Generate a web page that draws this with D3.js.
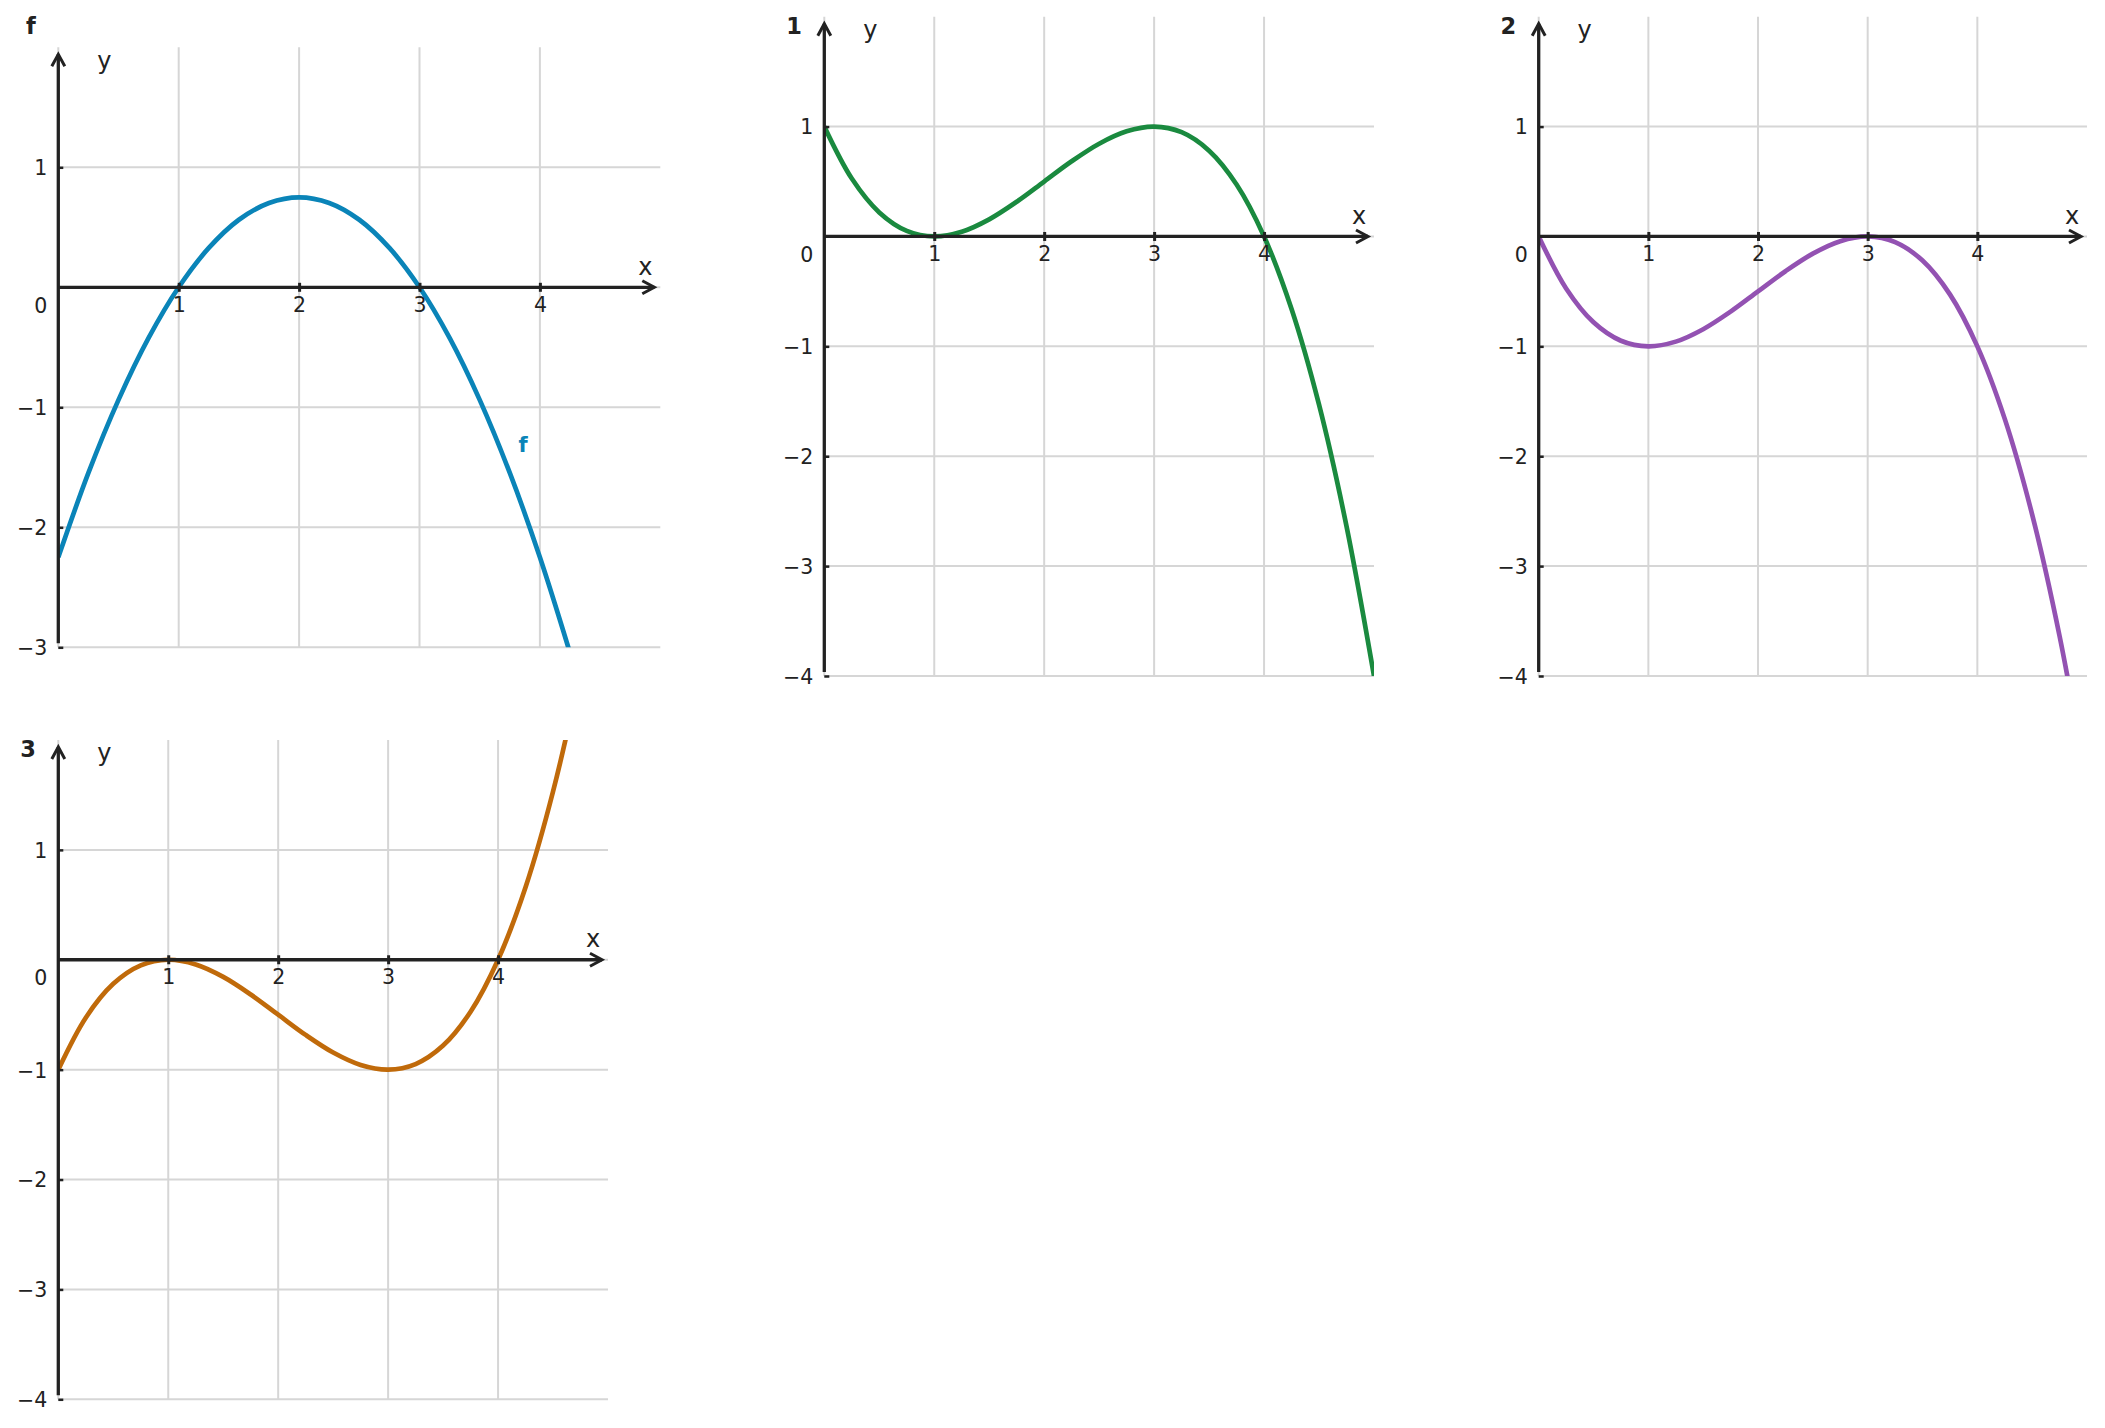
<!DOCTYPE html>
<html>
<head>
<meta charset="utf-8">
<script src="https://cdn.jsdelivr.net/npm/d3@7"></script>
<style>
  html, body { margin: 0; padding: 0; background: #fff; }
  svg { display: block; font-family: "DejaVu Sans", sans-serif; }
</style>
</head>
<body>
<svg id="chart" width="2105" height="1428"></svg>
<script>
// ---------- data ----------
const xSamples = [0, 0.25, 0.5, 0.75, 1, 1.25, 1.5, 1.75, 2, 2.25, 2.5, 2.75, 3, 3.25, 3.5, 3.75, 4, 4.25, 4.5, 4.75, 5];
const fValues  = [-2.25, -1.547, -0.938, -0.422, 0, 0.328, 0.563, 0.703, 0.75, 0.703, 0.563, 0.328, 0, -0.422, -0.938, -1.547, -2.25, -3.047];
const g1Values = [1, 0.527, 0.219, 0.051, 0, 0.043, 0.156, 0.316, 0.5, 0.684, 0.844, 0.957, 1, 0.949, 0.781, 0.473, 0, -0.660, -1.531, -2.637, -4];
const g2Values = [0, -0.473, -0.781, -0.949, -1, -0.957, -0.844, -0.684, -0.5, -0.316, -0.156, -0.043, 0, -0.051, -0.219, -0.527, -1, -1.660, -2.531, -3.637, -5];
const g3Values = [-1, -0.527, -0.219, -0.051, 0, -0.043, -0.156, -0.316, -0.5, -0.684, -0.844, -0.957, -1, -0.949, -0.781, -0.473, 0, 0.660, 1.531, 2.637, 4];
const panelTitles = ["f", "1", "2", "3"];
const xTicks = [1, 2, 3, 4];
const xGrid = [0, 1, 2, 3, 4];
const yTicksF = [-3, -2, -1, 1];
const yTicksG = [-4, -3, -2, -1, 1];
const xDomain = [0, 5];
const yMax = 2;

// ---------- layout / style ----------
const colors = ["#0a84b8", "#1a8a3f", "#9352b2", "#c06a0a"];
const panels = [
  { title: panelTitles[0], values: fValues,  yTicks: yTicksF, yMin: -3, color: colors[0], x0: 58.3,   x1: 660.3, top: 47.3,  bottom: 647.3, label: "f" },
  { title: panelTitles[1], values: g1Values, yTicks: yTicksG, yMin: -4, color: colors[1], x0: 824.3,  x1: 1374,  top: 16.7,  bottom: 676 },
  { title: panelTitles[2], values: g2Values, yTicks: yTicksG, yMin: -4, color: colors[2], x0: 1538.7, x1: 2087,  top: 16.7,  bottom: 676 },
  { title: panelTitles[3], values: g3Values, yTicks: yTicksG, yMin: -4, color: colors[3], x0: 58.3,   x1: 608,   top: 740,   bottom: 1399.3 }
];
const titleBaselines = [34.3, 34.3, 34.3, 757];
const ink = "#222222";
const gridColor = "#d6d6d6";
const tickFont = 20.5;

const svg = d3.select("#chart");

panels.forEach((p, i) => {
  const x = d3.scaleLinear().domain(xDomain).range([p.x0, p.x1]);
  const y = d3.scaleLinear().domain([p.yMin, yMax]).range([p.bottom, p.top]);
  const g = svg.append("g");

  // clip
  const clipId = "clip" + i;
  g.append("clipPath").attr("id", clipId).append("rect")
    .attr("x", x(0)).attr("y", y(yMax))
    .attr("width", x(5) - x(0)).attr("height", y(p.yMin) - y(yMax));

  // grid
  g.selectAll(".vg").data(xGrid).enter().append("line")
    .attr("x1", d => x(d)).attr("x2", d => x(d))
    .attr("y1", y(p.yMin)).attr("y2", y(yMax))
    .attr("stroke", gridColor).attr("stroke-width", 2);
  const hGrid = d3.range(p.yMin, yMax);
  g.selectAll(".hg").data(hGrid).enter().append("line")
    .attr("x1", x(0)).attr("x2", x(5))
    .attr("y1", d => y(d)).attr("y2", d => y(d))
    .attr("stroke", gridColor).attr("stroke-width", 2);

  // curve
  const pts = p.values.map((v, k) => [xSamples[k], v]);
  const line = d3.line().x(d => x(d[0])).y(d => y(d[1])).curve(d3.curveCatmullRom.alpha(0.5));
  g.append("path").datum(pts)
    .attr("clip-path", `url(#${clipId})`)
    .attr("d", line)
    .attr("fill", "none").attr("stroke", p.color).attr("stroke-width", 4.7)
    .attr("stroke-linecap", "butt");

  // x axis (ticks + labels)
  const xa = g.append("g").attr("transform", `translate(0,${y(0)})`)
    .call(d3.axisBottom(x).tickValues(xTicks).tickSize(5).tickFormat(d3.format("d")));
  xa.select(".domain").remove();
  xa.selectAll(".tick line").attr("y1", -4.5).attr("y2", 4.5).attr("stroke", ink).attr("stroke-width", 3);
  xa.selectAll(".tick text").attr("y", 24.7).attr("dy", null)
    .attr("fill", ink).attr("font-size", tickFont).attr("font-family", "DejaVu Sans");

  // y axis (ticks + labels)
  const ya = g.append("g").attr("transform", `translate(${x(0)},0)`)
    .call(d3.axisLeft(y).tickValues(p.yTicks).tickSizeInner(-5).tickSizeOuter(0).tickPadding(11)
      .tickFormat(d => d3.format("d")(d).replace("-", "\u2212")));
  ya.select(".domain").remove();
  ya.selectAll(".tick line").attr("stroke", ink).attr("stroke-width", 2.5);
  ya.selectAll(".tick text").attr("dy", "0.36em")
    .attr("fill", ink).attr("font-size", tickFont).attr("font-family", "DejaVu Sans");

  // origin label
  g.append("text").attr("x", x(0) - 11).attr("y", y(0) + 25.5)
    .attr("text-anchor", "end").attr("fill", ink).attr("font-size", tickFont).text("0");

  // axis lines with arrows
  const xTip = x(5) - 6, yTip = y(yMax) + 7;
  g.append("line").attr("x1", x(0)).attr("x2", xTip).attr("y1", y(0)).attr("y2", y(0))
    .attr("stroke", ink).attr("stroke-width", 3.3);
  g.append("path")
    .attr("d", `M${xTip - 12},${y(0) - 6.5} L${xTip},${y(0)} L${xTip - 12},${y(0) + 6.5}`)
    .attr("fill", "none").attr("stroke", ink).attr("stroke-width", 3).attr("stroke-linejoin", "miter");
  g.append("line").attr("x1", x(0)).attr("x2", x(0)).attr("y1", y(p.yMin) - 4).attr("y2", yTip)
    .attr("stroke", ink).attr("stroke-width", 3.3);
  g.append("path")
    .attr("d", `M${x(0) - 6.5},${yTip + 12} L${x(0)},${yTip} L${x(0) + 6.5},${yTip + 12}`)
    .attr("fill", "none").attr("stroke", ink).attr("stroke-width", 3).attr("stroke-linejoin", "miter");

  // axis names
  g.append("text").attr("x", x(0) + 46).attr("y", y(yMax) + 19).attr("dy", "0.1em")
    .attr("text-anchor", "middle").attr("font-size", 24).attr("fill", ink).text("y");
  g.append("text").attr("x", x(5) - 15).attr("y", y(0) - 19.5).attr("dy", "0.3em")
    .attr("text-anchor", "middle").attr("font-size", 24).attr("fill", ink).text("x");

  // panel title
  g.append("text").attr("x", x(0) - 22.5).attr("y", titleBaselines[i])
    .attr("text-anchor", "end").attr("font-size", 22.5).attr("font-weight", "bold")
    .attr("fill", ink).text(p.title);

  // curve label
  if (p.label) {
    g.append("text").attr("x", x(3.86)).attr("y", y(-1.31)).attr("dy", "0.35em")
      .attr("text-anchor", "middle").attr("font-size", 21).attr("font-weight", "bold")
      .attr("fill", p.color).text(p.label);
  }
});
</script>
</body>
</html>
